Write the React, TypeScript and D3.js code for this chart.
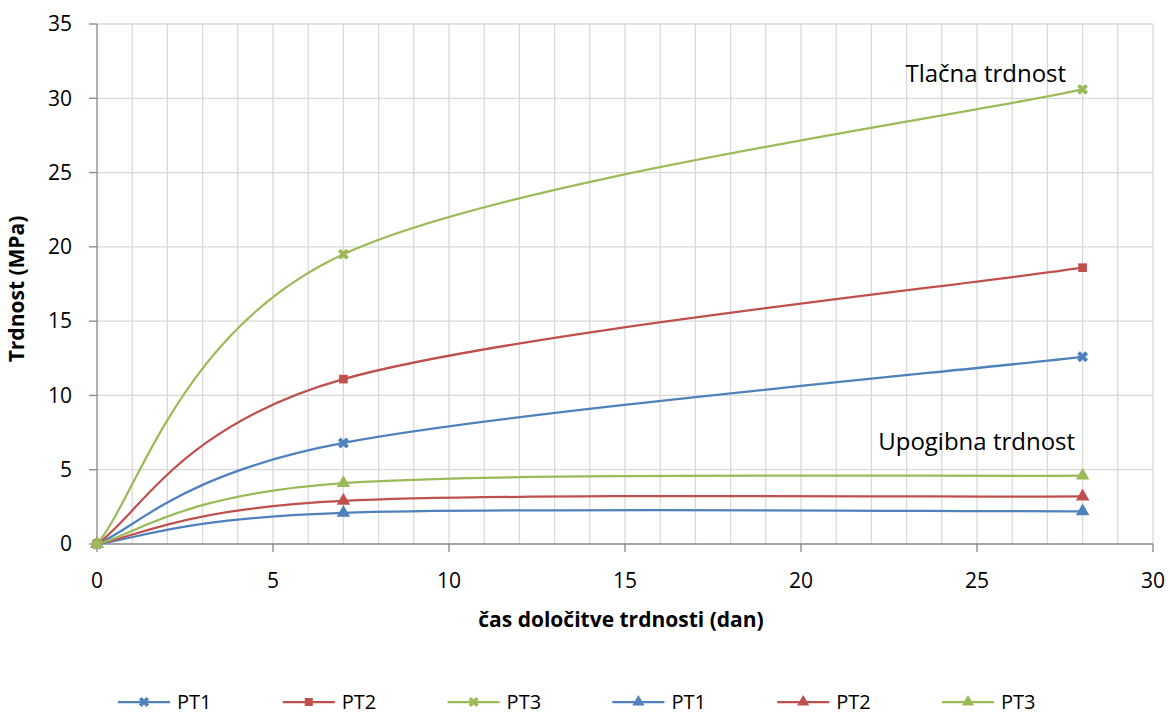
import { useMemo } from 'react'
import * as d3 from 'd3'

// days of testing
const DAYS = [0, 7, 28]

// compressive strength (MPa)
const TLACNA_PT1 = [0, 6.8, 12.6]
const TLACNA_PT2 = [0, 11.1, 18.6]
const TLACNA_PT3 = [0, 19.5, 30.6]

// flexural strength (MPa)
const UPOGIBNA_PT1 = [0, 2.1, 2.2]
const UPOGIBNA_PT2 = [0, 2.9, 3.2]
const UPOGIBNA_PT3 = [0, 4.1, 4.6]

const SERIES_NAMES = ['PT1', 'PT2', 'PT3', 'PT1', 'PT2', 'PT3']
const X_TICKS = [0, 5, 10, 15, 20, 25, 30]
const Y_TICKS = [0, 5, 10, 15, 20, 25, 30, 35]

const COLORS = ['#4F81BD', '#C0504D', '#9BBB59']
const FONT = 'Open Sans, Noto Sans, sans-serif'

const W = 1170
const H = 713
const margin = { top: 24, right: 17, bottom: 169, left: 97 }

// Excel-style smoothed line: cubic bezier, control points at 1/6 of neighbour chord
function smoothPath(pts: [number, number][]) {
  const p = d3.path()
  const n = pts.length
  const at = (i: number) => pts[Math.max(0, Math.min(n - 1, i))]
  p.moveTo(pts[0][0], pts[0][1])
  for (let i = 0; i < n - 1; i++) {
    const p0 = at(i - 1), p1 = at(i), p2 = at(i + 1), p3 = at(i + 2)
    const c1x = p1[0] + (p2[0] - p0[0]) / 6
    const c1y = p1[1] + (p2[1] - p0[1]) / 6
    const c2x = p2[0] - (p3[0] - p1[0]) / 6
    const c2y = p2[1] - (p3[1] - p1[1]) / 6
    p.bezierCurveTo(c1x, c1y, c2x, c2y, p2[0], p2[1])
  }
  return p.toString()
}

function markerPath(kind: string, size: number) {
  if (kind === 'x') return d3.symbol(d3.symbolCross, size)()
  if (kind === 'square') return d3.symbol(d3.symbolSquare, size)()
  if (kind === 'star') return d3.symbol(d3.symbolCross, size)()
  return d3.symbol(d3.symbolTriangle, size)()
}

export default function App() {
  const innerW = W - margin.left - margin.right
  const innerH = H - margin.top - margin.bottom

  const x = d3.scaleLinear().domain([0, 30]).range([0, innerW])
  const y = d3.scaleLinear().domain([0, 35]).range([innerH, 0])

  const series = useMemo(() => [
    { name: SERIES_NAMES[0], values: TLACNA_PT1, color: COLORS[0], marker: 'x' },
    { name: SERIES_NAMES[1], values: TLACNA_PT2, color: COLORS[1], marker: 'square' },
    { name: SERIES_NAMES[2], values: TLACNA_PT3, color: COLORS[2], marker: 'star' },
    { name: SERIES_NAMES[3], values: UPOGIBNA_PT1, color: COLORS[0], marker: 'tri' },
    { name: SERIES_NAMES[4], values: UPOGIBNA_PT2, color: COLORS[1], marker: 'tri' },
    { name: SERIES_NAMES[5], values: UPOGIBNA_PT3, color: COLORS[2], marker: 'tri' },
  ], [])

  const minorX = d3.range(1, 31)

  const legendX = 118
  const legendStep = 164.8

  const rot = (m: string) => (m === 'x' || m === 'star' ? ' rotate(45)' : '')

  return (
    <svg width={W} height={H} style={{ position: 'absolute', left: 0, top: 0, background: '#fff' }}>
      <g transform={`translate(${margin.left},${margin.top})`}>
        {/* vertical grid every day */}
        {minorX.map(v => (
          <line key={'gx' + v} x1={x(v)} x2={x(v)} y1={0} y2={innerH} stroke="#d9d9d9" strokeWidth={1.3} />
        ))}
        {/* horizontal grid */}
        {Y_TICKS.filter(v => v > 0).map(v => (
          <line key={'gy' + v} x1={0} x2={innerW} y1={y(v)} y2={y(v)} stroke="#d9d9d9" strokeWidth={1.3} />
        ))}

        {/* axes */}
        <line x1={0} x2={0} y1={0} y2={innerH} stroke="#868686" strokeWidth={1.3} />
        <line x1={0} x2={innerW} y1={innerH} y2={innerH} stroke="#868686" strokeWidth={1.3} />
        {Y_TICKS.map(v => (
          <g key={'yt' + v}>
            <line x1={-8} x2={0} y1={y(v)} y2={y(v)} stroke="#868686" strokeWidth={1.3} />
            <text x={-25} y={y(v)} dy="0.35em" textAnchor="end" fontFamily={FONT} fontSize={21} fill="#000">{v}</text>
          </g>
        ))}
        {X_TICKS.map(v => (
          <g key={'xt' + v}>
            <line x1={x(v)} x2={x(v)} y1={innerH} y2={innerH + 8} stroke="#868686" strokeWidth={1.3} />
            <text x={x(v)} y={innerH + 44} textAnchor="middle" fontFamily={FONT} fontSize={21} fill="#000">{v}</text>
          </g>
        ))}

        {/* series */}
        {series.map((s, i) => {
          const pts = DAYS.map((d, j) => [x(d), y(s.values[j])] as [number, number])
          return (
            <g key={'s' + i}>
              <path d={smoothPath(pts)} fill="none" stroke={s.color} strokeWidth={2.25} />
              {pts.map((p, j) => (
                <path key={j} d={markerPath(s.marker, s.marker === 'tri' ? 80 : 75) || ''}
                  transform={`translate(${p[0]},${p[1]})${rot(s.marker)}`}
                  fill={s.color} />
              ))}
            </g>
          )
        })}

        {/* annotations */}
        <text x={x(25.25)} y={y(31.1)} textAnchor="middle" fontFamily={FONT} fontSize={24} fill="#000">Tlačna trdnost</text>
        <text x={x(24.99)} y={y(6.3)} textAnchor="middle" fontFamily={FONT} fontSize={24} fill="#000">Upogibna trdnost</text>

        {/* axis titles */}
        <text transform={`translate(${-73},${innerH / 2 + 5}) rotate(-90)`} textAnchor="middle" fontFamily={FONT} fontSize={21} fontWeight="bold" fill="#000">Trdnost (MPa)</text>
        <text x={innerW / 2 + 97 - 97 + 97 - 97 - 4} y={innerH + 83} textAnchor="middle" fontFamily={FONT} fontSize={21} fontWeight="bold" fill="#000">čas določitve trdnosti (dan)</text>
      </g>

      {/* legend */}
      {series.map((s, i) => {
        const lx = legendX + i * legendStep
        const ly = 702
        return (
          <g key={'lg' + i}>
            <line x1={lx} x2={lx + 52} y1={ly} y2={ly} stroke={s.color} strokeWidth={2.25} />
            <path d={markerPath(s.marker, 65) || ''}
              transform={`translate(${lx + 26},${ly})${rot(s.marker)}`}
              fill={s.color} />
            <text x={lx + 59} y={ly} dy="0.35em" fontFamily={FONT} fontSize={20} fill="#000">{s.name}</text>
          </g>
        )
      })}
    </svg>
  )
}
